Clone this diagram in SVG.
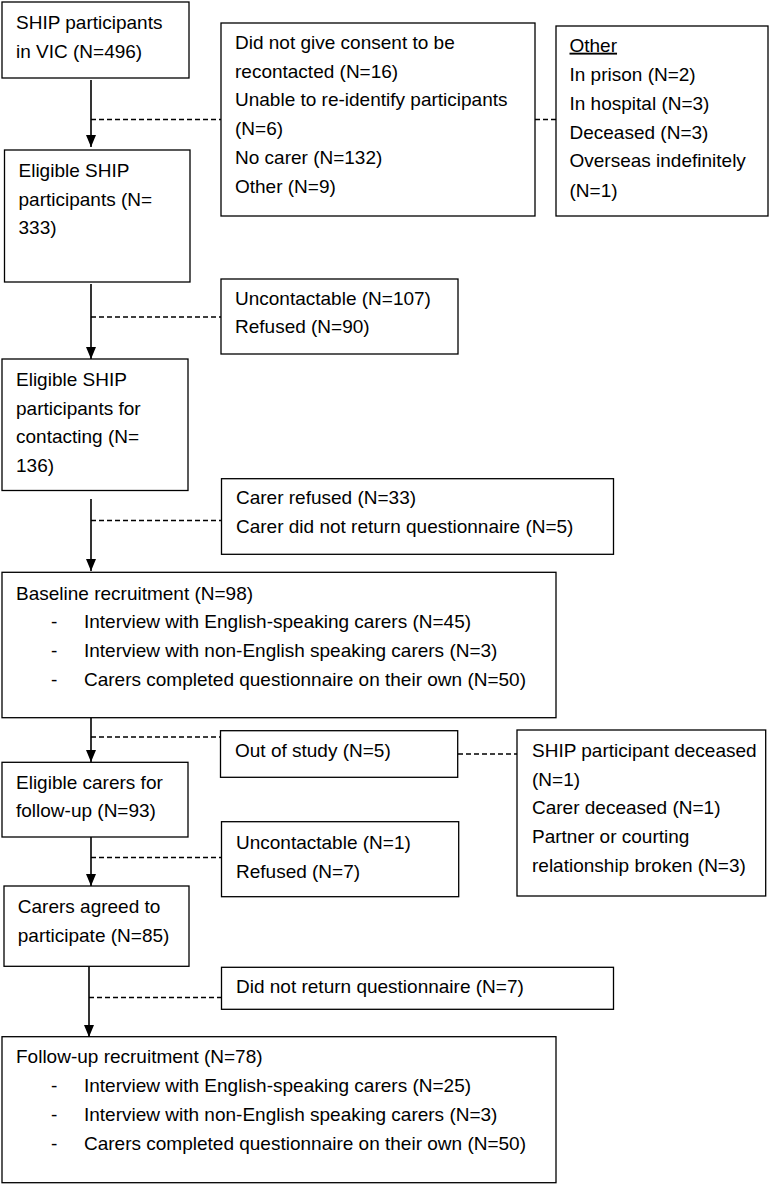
<svg xmlns="http://www.w3.org/2000/svg" width="771" height="1185" viewBox="0 0 771 1185">
<style>
.box{fill:#fff;stroke:#000;stroke-width:1.3}
.t{font-family:"Liberation Sans",Arial,sans-serif;font-size:19px;fill:#000}
.flow{stroke:#000;stroke-width:1.6;fill:none}
.dash{stroke:#000;stroke-width:1.3;stroke-dasharray:5 3;fill:none}
</style>
<defs>
<marker id="ah" viewBox="0 0 12 10" markerWidth="12" markerHeight="10" refX="12" refY="5" markerUnits="userSpaceOnUse" orient="auto">
<path d="M0,0 L12,5 L0,10 z" fill="#000"/>
</marker>
</defs>
<rect width="771" height="1185" fill="#fff"/>
<g id="connectors">
<line class="flow" x1="91" y1="80" x2="91" y2="147" marker-end="url(#ah)"/>
<line class="dash" x1="91" y1="119.5" x2="221" y2="119.5"/>
<line class="dash" x1="535" y1="119.5" x2="556" y2="119.5"/>
<line class="flow" x1="91" y1="284" x2="91" y2="359" marker-end="url(#ah)"/>
<line class="dash" x1="91" y1="317" x2="221" y2="317"/>
<line class="flow" x1="91" y1="499" x2="91" y2="571" marker-end="url(#ah)"/>
<line class="dash" x1="91" y1="520.5" x2="221" y2="520.5"/>
<line class="flow" x1="91" y1="718" x2="91" y2="762" marker-end="url(#ah)"/>
<line class="dash" x1="91" y1="737" x2="221" y2="737"/>
<line class="dash" x1="458" y1="754" x2="517" y2="754"/>
<line class="flow" x1="91" y1="837" x2="91" y2="886" marker-end="url(#ah)"/>
<line class="dash" x1="91" y1="857.5" x2="221" y2="857.5"/>
<line class="flow" x1="89" y1="966" x2="89" y2="1037" marker-end="url(#ah)"/>
<line class="dash" x1="89" y1="997.5" x2="221" y2="997.5"/>
</g>
<g id="n1">
<rect class="box" x="2" y="2" width="187" height="76"/>
<text class="t" x="16" y="29">SHIP participants</text>
<text class="t" x="16" y="57.5">in VIC (N=496)</text>
</g>
<g id="n2">
<rect class="box" x="221" y="23" width="314" height="193"/>
<text class="t" x="235" y="49">Did not give consent to be</text>
<text class="t" x="235" y="77.7">recontacted (N=16)</text>
<text class="t" x="235" y="106.4">Unable to re-identify participants</text>
<text class="t" x="235" y="135.1">(N=6)</text>
<text class="t" x="235" y="163.8">No carer (N=132)</text>
<text class="t" x="235" y="192.5">Other (N=9)</text>
</g>
<g id="n3">
<rect class="box" x="556" y="26" width="212" height="190"/>
<text class="t" x="569.5" y="51.7" text-decoration="underline">Other</text>
<text class="t" x="569.5" y="81">In prison (N=2)</text>
<text class="t" x="569.5" y="109.7">In hospital (N=3)</text>
<text class="t" x="569.5" y="138.5">Deceased (N=3)</text>
<text class="t" x="569.5" y="167.3">Overseas indefinitely</text>
<text class="t" x="569.5" y="196.5">(N=1)</text>
</g>
<g id="n4">
<rect class="box" x="4.5" y="150" width="185.5" height="132"/>
<text class="t" x="18.5" y="176.5">Eligible SHIP</text>
<text class="t" x="18.5" y="205.5">participants (N=</text>
<text class="t" x="18.5" y="234.3">333)</text>
</g>
<g id="n5">
<rect class="box" x="221" y="279" width="237" height="75"/>
<text class="t" x="235" y="304.6">Uncontactable (N=107)</text>
<text class="t" x="235" y="333.3">Refused (N=90)</text>
</g>
<g id="n6">
<rect class="box" x="2" y="359" width="186" height="131.5"/>
<text class="t" x="16" y="386">Eligible SHIP</text>
<text class="t" x="16" y="414.5">participants for</text>
<text class="t" x="16" y="443.3">contacting (N=</text>
<text class="t" x="16" y="471.8">136)</text>
</g>
<g id="n7">
<rect class="box" x="221.5" y="478.7" width="392" height="75.6"/>
<text class="t" x="236" y="504.4">Carer refused (N=33)</text>
<text class="t" x="236" y="533.3">Carer did not return questionnaire (N=5)</text>
</g>
<g id="n8">
<rect class="box" x="2" y="572.3" width="554" height="145.4"/>
<text class="t" x="16" y="599.6">Baseline recruitment (N=98)</text>
<text class="t" x="51" y="628.3">-</text>
<text class="t" x="84" y="628.3">Interview with English-speaking carers (N=45)</text>
<text class="t" x="51" y="656.9">-</text>
<text class="t" x="84" y="656.9">Interview with non-English speaking carers (N=3)</text>
<text class="t" x="51" y="685.7">-</text>
<text class="t" x="84" y="685.7">Carers completed questionnaire on their own (N=50)</text>
</g>
<g id="n9">
<rect class="box" x="220.5" y="730.7" width="237.2" height="46.6"/>
<text class="t" x="235" y="756.7">Out of study (N=5)</text>
</g>
<g id="n10">
<rect class="box" x="517" y="730" width="248.7" height="166"/>
<text class="t" x="532" y="756.7">SHIP participant deceased</text>
<text class="t" x="532" y="785.6">(N=1)</text>
<text class="t" x="532" y="814.3">Carer deceased (N=1)</text>
<text class="t" x="532" y="842.8">Partner or courting</text>
<text class="t" x="532" y="871.7">relationship broken (N=3)</text>
</g>
<g id="n11">
<rect class="box" x="2" y="762.3" width="186" height="74.7"/>
<text class="t" x="16" y="789">Eligible carers for</text>
<text class="t" x="16" y="817.4">follow-up (N=93)</text>
</g>
<g id="n12">
<rect class="box" x="221.5" y="821.7" width="237.2" height="75"/>
<text class="t" x="236" y="849">Uncontactable (N=1)</text>
<text class="t" x="236" y="877.7">Refused (N=7)</text>
</g>
<g id="n13">
<rect class="box" x="4" y="886" width="185" height="80.3"/>
<text class="t" x="17.8" y="912.7">Carers agreed to</text>
<text class="t" x="17.8" y="941.7">participate (N=85)</text>
</g>
<g id="n14">
<rect class="box" x="221.5" y="967.3" width="392" height="42"/>
<text class="t" x="236" y="993.3">Did not return questionnaire (N=7)</text>
</g>
<g id="n15">
<rect class="box" x="2" y="1036.7" width="554" height="146"/>
<text class="t" x="16" y="1063.3">Follow-up recruitment (N=78)</text>
<text class="t" x="51" y="1091.8">-</text>
<text class="t" x="84" y="1091.8">Interview with English-speaking carers (N=25)</text>
<text class="t" x="51" y="1121">-</text>
<text class="t" x="84" y="1121">Interview with non-English speaking carers (N=3)</text>
<text class="t" x="51" y="1150">-</text>
<text class="t" x="84" y="1150">Carers completed questionnaire on their own (N=50)</text>
</g>
</svg>
